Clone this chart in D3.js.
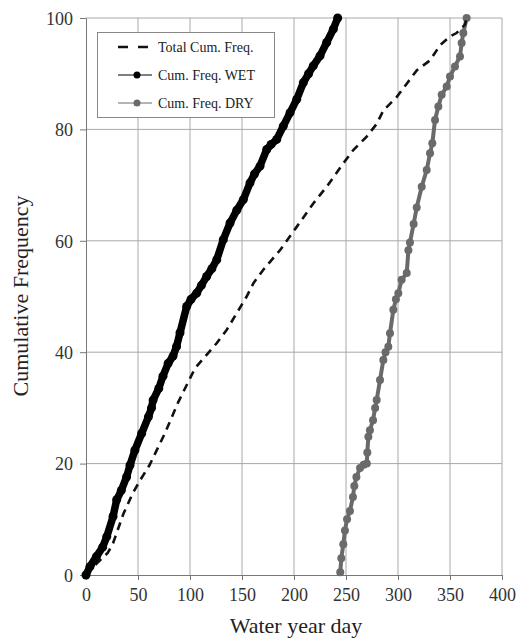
<!DOCTYPE html>
<html>
<head>
<meta charset="utf-8">
<script src="https://cdn.jsdelivr.net/npm/d3@7"></script>
<style>
  body { margin: 0; background: #fff; }
  text { font-family: "Liberation Serif", "Times New Roman", serif; }
</style>
</head>
<body>
<svg id="chart" width="518" height="639"></svg>
<script>
// values (water year day, cumulative frequency %)
const totalDays = [0, 10, 21, 26, 36, 45, 52, 61, 76, 88.6, 98.4, 104.8, 114.4, 125.6, 135.2, 144.9, 154.5, 161, 170.5, 180, 186.5, 202.6, 218.5, 231.4, 247.4, 257, 269.9, 279.5, 285.9, 298.7, 308.4, 318, 330.8, 340.4, 350, 356.3, 364.4, 366];
const totalFreq = [0, 2, 4, 5.7, 11, 14.7, 17, 19.7, 25.5, 31, 34.7, 37.1, 39.2, 41.6, 44, 47, 50, 52.4, 54.8, 56.9, 58.3, 62.5, 66.7, 69.7, 73.9, 76.3, 78.7, 81, 83.4, 85.8, 88.2, 90.6, 92.4, 95.1, 96.7, 97.3, 98.8, 100];

const wetDays = [0, 3.8, 10, 16, 20, 26, 29.5, 34, 39, 42.3, 47, 53.5, 60, 63, 64.5, 70, 74, 79, 83.7, 87, 90.4, 96.8, 101, 106.4, 111, 116, 121, 125.7, 132, 138.5, 145, 151.3, 157.7, 162, 167.3, 173.8, 178, 183.4, 189.7, 196.2, 202.6, 209, 214, 218.5, 225, 231.4, 237.8, 242];
const wetFreq = [0, 1.5, 3.3, 5, 6.9, 10.5, 13.5, 15.2, 17.6, 19.7, 22.4, 25.4, 28.4, 30, 31.4, 33.5, 35.7, 38, 39.3, 41, 43.5, 48.2, 49.5, 50.6, 52, 53.6, 55, 56.6, 60.2, 63.2, 65.5, 67.4, 70.4, 72, 73.4, 76.4, 77.3, 78.2, 80.6, 83, 85.4, 88.4, 90, 91.4, 93.2, 95.6, 98, 100];

const dryDays = [244.5, 245.5, 247.4, 249, 251, 253.8, 256.7, 258, 260, 263.5, 267, 270, 270.5, 271.5, 273, 276, 278, 279.5, 282.7, 285.9, 288, 290.7, 292.3, 295.5, 298, 300.3, 303.5, 308.4, 310, 311.5, 315, 318, 322.8, 327.6, 330.8, 333, 335.6, 338.8, 342, 346.8, 350, 354.8, 359.6, 361.2, 362.8, 366];
const dryFreq = [0.5, 3, 5.5, 8, 10, 11.5, 14, 16, 17.6, 19.2, 19.8, 20, 22, 24.8, 26, 27.8, 30, 31.4, 35, 38.6, 40, 41, 43.4, 47.6, 49.5, 50.6, 53, 54.2, 58.3, 59.7, 63, 66, 69.7, 72.7, 75.7, 77.5, 81.7, 84.1, 86.2, 87.7, 89.5, 91.3, 93.1, 95.5, 97.3, 100];

const xTicks = [0, 50, 100, 150, 200, 250, 300, 350, 400];
const yTicks = [0, 20, 40, 60, 80, 100];
const seriesNames = ["Total Cum. Freq.", "Cum. Freq. WET", "Cum. Freq. DRY"];

const margin = { top: 18, right: 16, bottom: 64, left: 86 };
const width = 518, height = 639;

const svg = d3.select("#chart");

const x = d3.scaleLinear().domain([0, 400]).range([margin.left, width - margin.right]);
const y = d3.scaleLinear().domain([0, 100]).range([height - margin.bottom, margin.top]);

// grid
svg.append("g")
    .selectAll("line")
    .data(xTicks.slice(1))
    .enter().append("line")
    .attr("x1", d => x(d)).attr("x2", d => x(d))
    .attr("y1", y(0)).attr("y2", y(100))
    .style("stroke", "#a8a8a8");

svg.append("g")
    .selectAll("line")
    .data(yTicks.slice(1))
    .enter().append("line")
    .attr("x1", x(0)).attr("x2", x(400))
    .attr("y1", d => y(d)).attr("y2", d => y(d))
    .style("stroke", "#a8a8a8");

// axes
const xAxis = svg.append("g")
    .attr("transform", `translate(0,${y(0)})`)
    .call(d3.axisBottom(x).tickValues(xTicks).tickSize(5).tickPadding(4).tickSizeOuter(0));
const yAxis = svg.append("g")
    .attr("transform", `translate(${x(0)},0)`)
    .call(d3.axisLeft(y).tickValues(yTicks).tickSize(6).tickPadding(7).tickSizeOuter(0));

[xAxis, yAxis].forEach(g => {
    g.attr("font-family", "'Liberation Serif', serif");
    g.select(".domain").style("stroke", "#777");
    g.selectAll(".tick line").style("stroke", "#777");
    g.selectAll("text")
        .style("font-family", "'Liberation Serif', serif")
        .style("font-size", "18px")
        .style("fill", "#333");
});
xAxis.selectAll("text").attr("dy", "0.95em");
yAxis.selectAll("text").attr("dy", "0.35em");

// axis titles
svg.append("text")
    .attr("x", 296).attr("y", 633)
    .attr("text-anchor", "middle")
    .style("font-size", "22px")
    .style("fill", "#222")
    .text("Water year day");

svg.append("text")
    .attr("transform", "translate(28,296) rotate(-90)")
    .attr("text-anchor", "middle")
    .style("font-size", "22px")
    .style("fill", "#222")
    .text("Cumulative Frequency");

const line = d3.line().x(d => x(d[0])).y(d => y(d[1]));

const totalPts = totalDays.map((d, i) => [d, totalFreq[i]]);
const wetPts = wetDays.map((d, i) => [d, wetFreq[i]]);
const dryPts = dryDays.map((d, i) => [d, dryFreq[i]]);

// DRY series
svg.append("path")
    .attr("d", line(dryPts))
    .style("fill", "none")
    .style("stroke", "#6a6a6a")
    .style("stroke-width", 4);
svg.append("g")
    .selectAll("circle")
    .data(dryPts)
    .enter().append("circle")
    .attr("cx", d => x(d[0])).attr("cy", d => y(d[1]))
    .attr("r", 4)
    .style("fill", "#6a6a6a");

// total dashed
svg.append("path")
    .attr("d", line(totalPts))
    .style("fill", "none")
    .style("stroke", "#111")
    .style("stroke-width", 2.6)
    .style("stroke-dasharray", "8,6");

// WET series
svg.append("path")
    .attr("d", line(wetPts))
    .style("fill", "none")
    .style("stroke", "#000")
    .style("stroke-width", 7.5)
    .style("stroke-linejoin", "round");
svg.append("g")
    .selectAll("circle")
    .data(wetPts)
    .enter().append("circle")
    .attr("cx", d => x(d[0])).attr("cy", d => y(d[1]))
    .attr("r", 4.5)
    .style("fill", "#000");

// legend
const legend = svg.append("g");
legend.append("rect")
    .attr("x", 97.5).attr("y", 32.5)
    .attr("width", 177).attr("height", 85)
    .style("fill", "#fff")
    .style("stroke", "#888");

const legendY = [47, 75, 103];
const legendColor = ["#111", "#000", "#6a6a6a"];

seriesNames.forEach((name, i) => {
    const ly = legendY[i];
    const sample = legend.append("line")
        .attr("x1", 118).attr("x2", 152)
        .attr("y1", ly).attr("y2", ly)
        .style("stroke", legendColor[i]);
    if (i === 0) {
        sample.style("stroke-width", 2.6).style("stroke-dasharray", "10,10");
    } else {
        sample.style("stroke-width", 1);
        legend.append("circle")
            .attr("cx", 137).attr("cy", ly).attr("r", 3.5)
            .style("fill", legendColor[i]);
    }
    legend.append("text")
        .attr("x", 158).attr("y", ly + 5)
        .style("font-size", "14px")
        .style("fill", "#222")
        .text(name);
});
</script>
</body>
</html>
